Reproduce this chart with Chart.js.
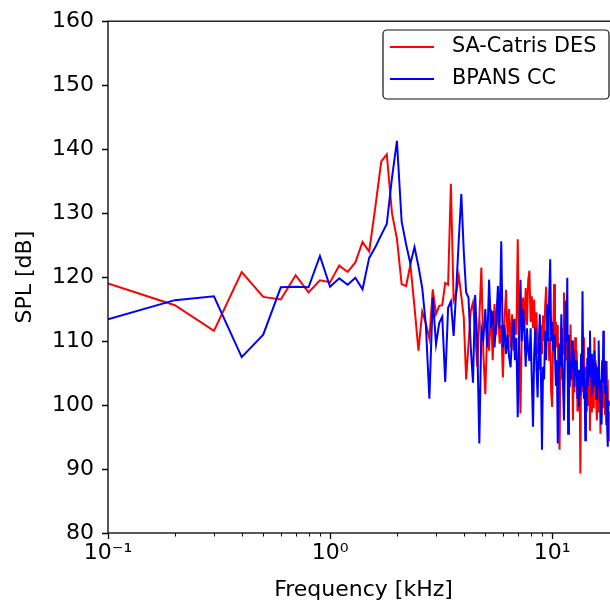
<!DOCTYPE html>
<html>
<head>
<meta charset="utf-8">
<title>SPL spectrum</title>
<script src="https://cdn.jsdelivr.net/npm/chart.js@4.4.1/dist/chart.umd.min.js"></script>
<style>
  html, body { margin: 0; padding: 0; background: #fff; overflow: hidden; }
  #wrap { width: 620px; height: 609px; }
</style>
</head>
<body>
<div id="wrap"><canvas id="spl" width="620" height="609"></canvas></div>
<script>
// Frequency bins [kHz]
const FREQ_KHZ = [
  0.1, 0.2, 0.3, 0.4, 0.5, 0.6, 0.7, 0.8, 0.9, 1.0,
  1.1, 1.2, 1.3, 1.4, 1.5, 1.6, 1.7, 1.8, 1.9, 2.0,
  2.1, 2.2, 2.3, 2.4, 2.5, 2.6, 2.7, 2.8, 2.9, 3.0,
  3.1, 3.2, 3.3, 3.4, 3.5, 3.6, 3.7, 3.8, 3.9, 4.0,
  4.1, 4.2, 4.3, 4.4, 4.5, 4.6, 4.7, 4.8, 4.9, 5.0,
  5.1, 5.2, 5.3, 5.4, 5.5, 5.6, 5.7, 5.8, 5.9, 6.0,
  6.1, 6.2, 6.3, 6.4, 6.5, 6.6, 6.7, 6.8, 6.9, 7.0,
  7.1, 7.2, 7.3, 7.4, 7.5, 7.6, 7.7, 7.8, 7.9, 8.0,
  8.1, 8.2, 8.3, 8.4, 8.5, 8.6, 8.7, 8.8, 8.9, 9.0,
  9.1, 9.2, 9.3, 9.4, 9.5, 9.6, 9.7, 9.8, 9.9, 10.0,
  10.1, 10.2, 10.3, 10.4, 10.5, 10.6, 10.7, 10.8, 10.9, 11.0,
  11.1, 11.2, 11.3, 11.4, 11.5, 11.6, 11.7, 11.8, 11.9, 12.0,
  12.1, 12.2, 12.3, 12.4, 12.5, 12.6, 12.7, 12.8, 12.9, 13.0,
  13.1, 13.2, 13.3, 13.4, 13.5, 13.6, 13.7, 13.8, 13.9, 14.0,
  14.1, 14.2, 14.3, 14.4, 14.5, 14.6, 14.7, 14.8, 14.9, 15.0,
  15.1, 15.2, 15.3, 15.4, 15.5, 15.6, 15.7, 15.8, 15.9, 16.0,
  16.1, 16.2, 16.3, 16.4, 16.5, 16.6, 16.7, 16.8, 16.9, 17.0,
  17.1, 17.2, 17.3, 17.4, 17.5, 17.6, 17.7, 17.8, 17.9, 18.0
];

// SPL [dB], SA-Catris DES
const SPL_SA_CATRIS_DES = [
  119.0, 115.6, 111.6, 120.8, 116.9, 116.5, 120.3, 117.6, 119.5, 119.2,
  121.8, 120.8, 122.3, 125.5, 124.0, 131.0, 138.1, 139.2, 130.0, 126.0,
  118.9, 118.6, 122.0, 115.3, 108.5, 114.6, 112.7, 110.4, 118.1, 114.2,
  115.5, 115.6, 119.1, 118.8, 134.6, 116.3, 117.5, 120.2, 117.0, 113.7,
  104.0, 109.5, 114.7, 116.0, 111.6, 106.0, 113.5, 121.5, 108.0, 101.7,
  112.0, 108.5, 115.0, 107.0, 115.8, 111.0, 116.5, 109.6, 112.5, 104.3,
  113.0, 118.0, 110.5, 115.0, 109.0, 114.2, 108.5, 113.5, 111.0, 125.9,
  109.0, 98.7, 112.0, 116.8, 111.5, 118.3, 112.5, 119.5, 121.0, 113.0,
  117.0, 112.0, 116.5, 110.0, 114.5, 108.0, 111.0, 105.5, 112.5, 108.0,
  114.0, 110.0, 115.5, 118.5, 111.0, 114.0, 106.9, 110.5, 102.0, 99.7,
  110.0, 118.9, 108.0, 113.0, 109.0, 112.5, 100.0, 93.0, 108.0, 104.0,
  112.0, 108.0, 117.6, 110.0, 113.7, 107.0, 110.5, 101.7, 108.0, 104.5,
  112.6, 106.0, 109.0, 97.6, 106.0, 102.0, 110.6, 105.0, 108.5, 99.0,
  104.0, 99.0, 103.0, 89.3, 106.9, 102.0, 108.0, 104.0, 110.6, 103.0,
  106.0, 99.7, 104.5, 100.0, 109.0, 103.0, 107.0, 96.0, 103.5, 99.0,
  107.4, 101.0, 105.0, 99.5, 110.6, 104.0, 107.0, 100.0, 97.6, 104.0,
  99.0, 104.9, 100.5, 103.5, 95.5, 101.5, 98.0, 103.0, 99.5, 104.3,
  100.0, 103.0, 98.6, 102.5, 97.0, 106.9, 101.0, 104.0, 94.5, 99.0
];

// SPL [dB], BPANS CC
const SPL_BPANS_CC = [
  113.4, 116.4, 117.0, 107.5, 111.0, 118.4, 118.5, 118.4, 123.3, 118.5,
  119.8, 118.8, 119.9, 118.1, 123.0, 124.7, 126.6, 128.3, 135.5, 141.3,
  128.7, 125.1, 122.1, 124.7, 121.7, 118.3, 112.5, 101.0, 116.8, 109.5,
  112.8, 113.8, 103.6, 115.2, 116.2, 110.8, 118.0, 126.0, 133.0, 124.0,
  117.6, 116.8, 109.0, 103.5, 117.2, 110.0, 94.0, 111.9, 110.3, 115.0,
  109.0, 119.6, 112.0, 114.7, 109.0, 113.0, 118.6, 112.0, 125.6, 109.0,
  112.5, 108.0, 111.0, 107.5, 105.9, 111.0, 113.4, 107.0, 110.5, 98.1,
  110.0, 119.6, 110.0, 115.0, 111.6, 106.0, 112.0, 108.5, 106.9, 112.0,
  104.0, 96.6, 108.0, 112.1, 106.0, 101.2, 109.0, 114.2, 105.0, 93.0,
  106.0, 104.0, 111.6, 107.0, 115.7, 110.0, 117.0, 122.8, 110.0, 113.0,
  108.5, 111.0, 108.0, 103.0, 107.0, 94.0, 104.0, 109.6, 106.0, 114.2,
  108.0, 103.0, 97.6, 106.0, 116.3, 110.0, 119.9, 95.5, 111.0, 102.8,
  107.0, 104.0, 110.1, 105.5, 108.5, 102.8, 107.0, 104.5, 106.9, 101.0,
  105.5, 99.7, 104.0, 101.5, 108.0, 103.0, 117.8, 106.0, 101.0, 104.0,
  94.5, 103.0, 99.0, 107.4, 103.0, 109.0, 104.5, 111.6, 105.0, 108.0,
  102.0, 102.3, 107.0, 103.0, 108.5, 104.0, 106.5, 101.0, 101.7, 106.0,
  103.0, 110.1, 104.0, 100.5, 104.0, 97.1, 103.0, 107.0, 103.5, 111.6,
  105.0, 107.0, 102.0, 106.9, 99.0, 103.0, 96.0, 93.5, 100.0, 100.7
];

// Axis ticks
const Y_TICKS = [80, 90, 100, 110, 120, 130, 140, 150, 160];
const X_MAJOR_TICKS = [0.1, 1, 10];
const X_MAJOR_LABELS = ['10\u207B\u00B9', '10\u2070', '10\u00B9'];
const X_MINOR_TICKS = [0.2, 0.3, 0.4, 0.5, 0.6, 0.7, 0.8, 0.9,
                       2, 3, 4, 5, 6, 7, 8, 9, 20];

const SERIES_LABELS = ['SA-Catris DES', 'BPANS CC'];
const SERIES_COLORS = ['#ff0000', '#0000ff'];

const FONT = "'DejaVu Sans', 'Liberation Sans', sans-serif";
Chart.defaults.font.family = FONT;
Chart.defaults.color = '#000';

const toPoints = (ys) => FREQ_KHZ.map((f, i) => ({ x: f, y: ys[i] }));

// Frame, tick marks (major / minor) and framed legend
const axisDecor = {
  id: 'axisDecor',
  afterDraw(chart) {
    const { ctx, chartArea: a, scales: { x, y } } = chart;
    ctx.save();
    ctx.strokeStyle = '#000';
    ctx.lineWidth = 1.3;
    ctx.strokeRect(a.left, a.top, a.right - a.left, a.bottom - a.top);

    ctx.beginPath();
    Y_TICKS.forEach(v => {
      const py = Math.round(y.getPixelForValue(v)) + 0.5;
      ctx.moveTo(a.left - 6, py); ctx.lineTo(a.left, py);
    });
    X_MAJOR_TICKS.forEach(v => {
      const px = Math.round(x.getPixelForValue(v)) + 0.5;
      ctx.moveTo(px, a.bottom); ctx.lineTo(px, a.bottom + 6);
    });
    ctx.stroke();

    ctx.beginPath();
    ctx.lineWidth = 1;
    X_MINOR_TICKS.forEach(v => {
      const px = Math.round(x.getPixelForValue(v)) + 0.5;
      ctx.moveTo(px, a.bottom); ctx.lineTo(px, a.bottom + 3.5);
    });
    ctx.stroke();

    // legend box
    const bx = 383, by = 30, bw = 226, bh = 69, r = 4;
    ctx.beginPath();
    ctx.moveTo(bx + r, by);
    ctx.arcTo(bx + bw, by, bx + bw, by + bh, r);
    ctx.arcTo(bx + bw, by + bh, bx, by + bh, r);
    ctx.arcTo(bx, by + bh, bx, by, r);
    ctx.arcTo(bx, by, bx + bw, by, r);
    ctx.closePath();
    ctx.fillStyle = 'rgba(255,255,255,0.8)';
    ctx.fill();
    ctx.lineWidth = 1.2;
    ctx.strokeStyle = '#111';
    ctx.stroke();

    ctx.font = '20.8px ' + FONT;
    ctx.textBaseline = 'middle';
    ctx.textAlign = 'left';
    ctx.fillStyle = '#000';
    const rows = [47, 79];
    chart.data.datasets.forEach((ds, i) => {
      ctx.beginPath();
      ctx.strokeStyle = ds.borderColor;
      ctx.lineWidth = 2;
      ctx.moveTo(390, rows[i]); ctx.lineTo(434, rows[i]);
      ctx.stroke();
      ctx.fillText(ds.label, 452, rows[i]);
    });
    ctx.restore();
  }
};

new Chart(document.getElementById('spl'), {
  type: 'line',
  data: {
    datasets: [
      { label: SERIES_LABELS[0], data: toPoints(SPL_SA_CATRIS_DES),
        borderColor: SERIES_COLORS[0], order: 1 },
      { label: SERIES_LABELS[1], data: toPoints(SPL_BPANS_CC),
        borderColor: SERIES_COLORS[1], order: 0 }
    ]
  },
  options: {
    responsive: false,
    animation: false,
    devicePixelRatio: 1,
    layout: { padding: { left: 0, right: 1, top: 19, bottom: 0 } },
    elements: {
      point: { radius: 0 },
      line: { borderWidth: 2, tension: 0, fill: false }
    },
    plugins: { legend: { display: false }, tooltip: { enabled: false } },
    scales: {
      x: {
        type: 'logarithmic',
        min: 0.1,
        max: 20,
        grid: { display: false, drawTicks: true, tickLength: 6 },
        border: { display: false },
        afterBuildTicks: (s) => {
          s.ticks = X_MAJOR_TICKS.map(v => ({ value: v, major: true }));
        },
        afterFit: (s) => { s.height = 76; },
        ticks: {
          autoSkip: false, maxRotation: 0, padding: 1,
          font: { size: 22 },
          callback: (v) => {
            const i = X_MAJOR_TICKS.indexOf(v);
            return i >= 0 ? X_MAJOR_LABELS[i] : '';
          }
        },
        title: {
          display: true, text: 'Frequency [kHz]',
          font: { size: 22 }, padding: { top: 0, bottom: 6 }
        }
      },
      y: {
        min: 80,
        max: 160,
        grid: { display: false, drawTicks: true, tickLength: 6 },
        border: { display: false },
        afterBuildTicks: (s) => { s.ticks = Y_TICKS.map(v => ({ value: v })); },
        afterFit: (s) => { s.width = 108; },
        ticks: { padding: 8, font: { size: 22 } },
        title: {
          display: true, text: 'SPL [dB]',
          font: { size: 22 }, padding: { top: 12, bottom: 0 }
        }
      }
    }
  },
  plugins: [axisDecor]
});
</script>
</body>
</html>
